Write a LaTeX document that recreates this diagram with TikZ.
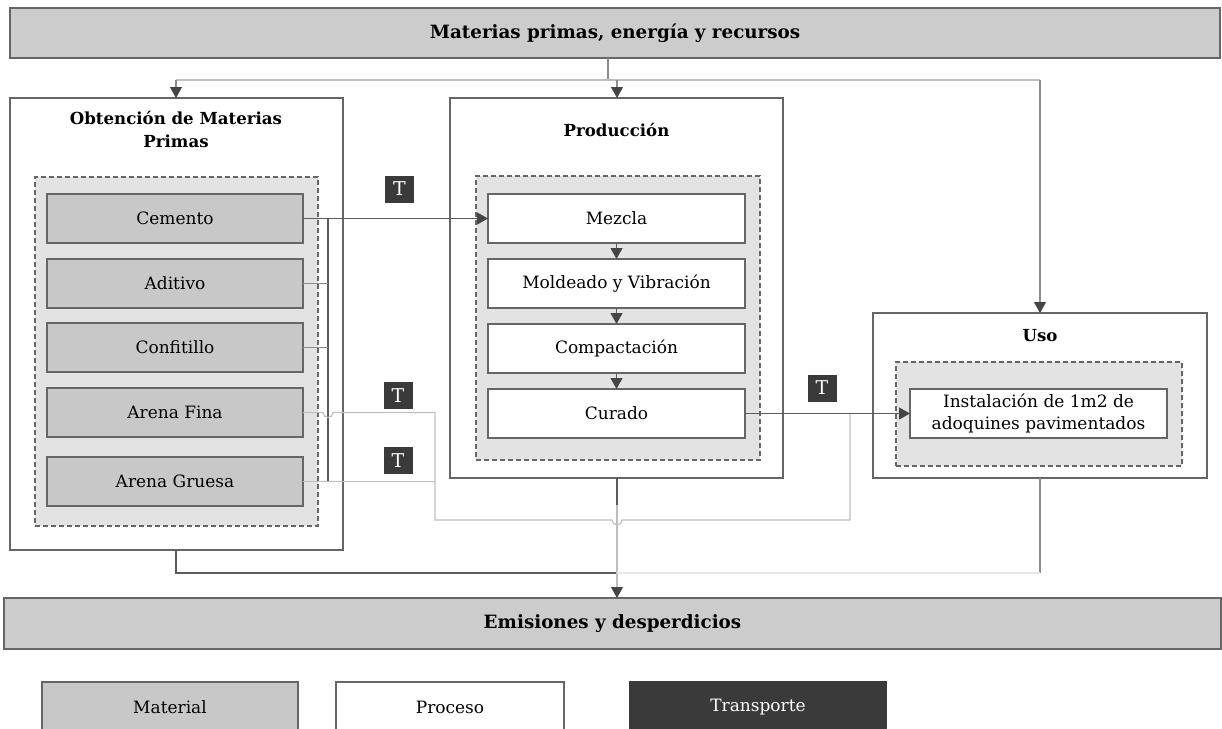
\documentclass[tikz,border=0pt]{standalone}
\usepackage{fontspec}
\setmainfont{DejaVu Serif}
\usetikzlibrary{arrows.meta,calc}
\definecolor{barfill}{HTML}{CCCCCC}
\definecolor{edge}{HTML}{666666}
\definecolor{matfill}{HTML}{C8C8C8}
\definecolor{dashfill}{HTML}{E3E3E3}
\definecolor{tfill}{HTML}{3A3A3A}
\definecolor{dline}{HTML}{5C5C5C}
\definecolor{mline}{HTML}{8C8C8C}
\definecolor{lline}{HTML}{BEBEBE}
\definecolor{vline}{HTML}{E8E8E8}
\definecolor{tipc}{HTML}{454545}
\begin{document}
\begin{tikzpicture}[x=1pt,y=-1pt,
  font=\fontsize{17}{22}\selectfont,
  every node/.style={inner sep=0pt,outer sep=0pt},
  bar/.style={draw=edge,fill=barfill,line width=1.8pt,font=\fontsize{18.3}{22}\selectfont\bfseries},
  outerbox/.style={draw=edge,fill=white,line width=1.8pt},
  dashbox/.style={draw=edge,fill=dashfill,line width=1.3pt,dash pattern=on 5pt off 3pt},
  matbox/.style={draw=edge,fill=matfill,line width=2.2pt,minimum width=256pt,minimum height=49pt},
  procbox/.style={draw=edge,fill=white,line width=2.2pt,minimum width=257pt,minimum height=49pt},
  tbox/.style={fill=tfill,text=white,minimum width=29pt,minimum height=27pt,font=\fontsize{19}{22}\selectfont},
  title/.style={font=\fontsize{16.6}{23}\selectfont\bfseries,align=center},
  dl/.style={draw=dline,line width=1.1pt},
  ml/.style={draw=mline,line width=1.1pt},
  ll/.style={draw=lline,line width=1.1pt},
  arr/.style={-{Triangle[length=11pt,width=12pt,color=tipc]}},
]
\useasboundingbox (0,0) rectangle (1222,728);

% bars
\node[bar,minimum width=1210pt,minimum height=50pt] (top) at (615,33) {Materias primas, energía y recursos};
\node[bar,minimum width=1217pt,minimum height=51pt] (emis) at (612.5,623.5) {Emisiones y desperdicios};

% Obtencion
\node[outerbox,minimum width=333pt,minimum height=452pt] (obt) at (176.5,324) {};
\node[title] (obtt) at (176,129.5) {Obtención de Materias\\Primas};
\node[dashbox,minimum width=283pt,minimum height=349pt] (obtd) at (176.5,351.5) {};
\node[matbox] (cem) at (175,218.5) {Cemento};
\node[matbox] (adi) at (175,283.5) {Aditivo};
\node[matbox] (conf) at (175,347.5) {Confitillo};
\node[matbox] (fina) at (175,412.5) {Arena Fina};
\node[matbox] (gru) at (175,481.5) {Arena Gruesa};

% Produccion
\node[outerbox,minimum width=333pt,minimum height=380pt] (prod) at (616.5,288) {};
\node[title] (prodt) at (616.5,130) {Producción};
\node[dashbox,minimum width=284pt,minimum height=284pt] (prodd) at (618,318) {};
\node[procbox] (mez) at (616.5,218.5) {Mezcla};
\node[procbox] (mol) at (616.5,283.5) {Moldeado y Vibración};
\node[procbox] (com) at (616.5,348.5) {Compactación};
\node[procbox] (cur) at (616.5,413.5) {Curado};

% Uso
\node[outerbox,minimum width=334pt,minimum height=165pt] (uso) at (1040,395.5) {};
\node[title] (usot) at (1040,336) {Uso};
\node[dashbox,minimum width=286pt,minimum height=104pt] (usod) at (1039,414) {};
\node[procbox,align=center,font=\fontsize{17}{22}\selectfont] (inst) at (1038.5,413.5) {Instalación de 1m2 de\\adoquines pavimentados};

% transport marks
\node[tbox] (t1) at (399.5,189) {T};
\node[tbox] (t2) at (398,395.5) {T};
\node[tbox] (t3) at (398,460.5) {T};
\node[tbox] (t4) at (822,388) {T};

% legend
\node[draw=edge,fill=matfill,line width=1.6pt,minimum width=256pt,minimum height=50pt] (lmat) at (170,707) {Material};
\node[draw=edge,fill=white,line width=1.6pt,minimum width=228pt,minimum height=50pt] (lpro) at (450,707) {Proceso};
\node[draw=tfill,fill=tfill,text=white,line width=1.6pt,minimum width=256pt,minimum height=50pt] (ltra) at (758,707) {Transporte};

% top distribution
\coordinate (tdrop) at (608,80);
\coordinate (hl) at (176,80);
\coordinate (hp) at (617,80);
\coordinate (hr) at (1040,80);
\draw[ml] (top.south -| tdrop) -- (tdrop);
\draw[ll] (hl) -- (hr);
\draw[ml,arr] (hl) -- (hl |- obt.north);
\draw[ml,arr] (hp) -- (hp |- prod.north);
\draw[ml,arr] (hr) -- (hr |- uso.north);

% production chain
\draw[dl,arr] (mez.south) -- (mol.north);
\draw[dl,arr] (mol.south) -- (com.north);
\draw[dl,arr] (com.south) -- (cur.north);

% materials to production
\coordinate (busT) at (328,218.5);
\coordinate (busB) at (328,481.5);
\coordinate (jx) at (435,412.5);
\coordinate (jb) at (435,520);
\coordinate (rb) at (850,520);
\coordinate (px) at (617,520);
\draw[dl,arr] (cem.east) -- (mez.west);
\draw[dl] (busT) -- (busB);
\draw[ml] (adi.east) -- (adi.east -| busT);
\draw[ml] (conf.east) -- (conf.east -| busT);
\draw[ll] (gru.east) -- (gru.east -| jx);
\draw[ll] (fina.east) -- ($(fina.east -| busT)+(-5,0)$) arc[start angle=180,end angle=360,radius=5pt]
   -- (jx) -- (jb) -- ($(px)+(-5,0)$) arc[start angle=180,end angle=360,radius=5pt] -- (rb) -- (rb |- cur.east);

% production to use
\draw[dl,arr] (cur.east) -- (inst.west);

% emissions
\coordinate (ob) at (176,573);
\coordinate (mb) at (617,573);
\coordinate (ub) at (1040,573);
\coordinate (pj) at (617,505);
\draw[dl] (obt.south -| ob) -- (ob) -- (mb);
\draw[dl] (prod.south -| pj) -- (pj);
\draw[ll,arr] (pj) -- (pj |- emis.north);
\draw[ml] (uso.south -| ub) -- (ub);
\draw[draw=vline,line width=1.1pt] (ub) -- (mb);
\end{tikzpicture}
\end{document}
